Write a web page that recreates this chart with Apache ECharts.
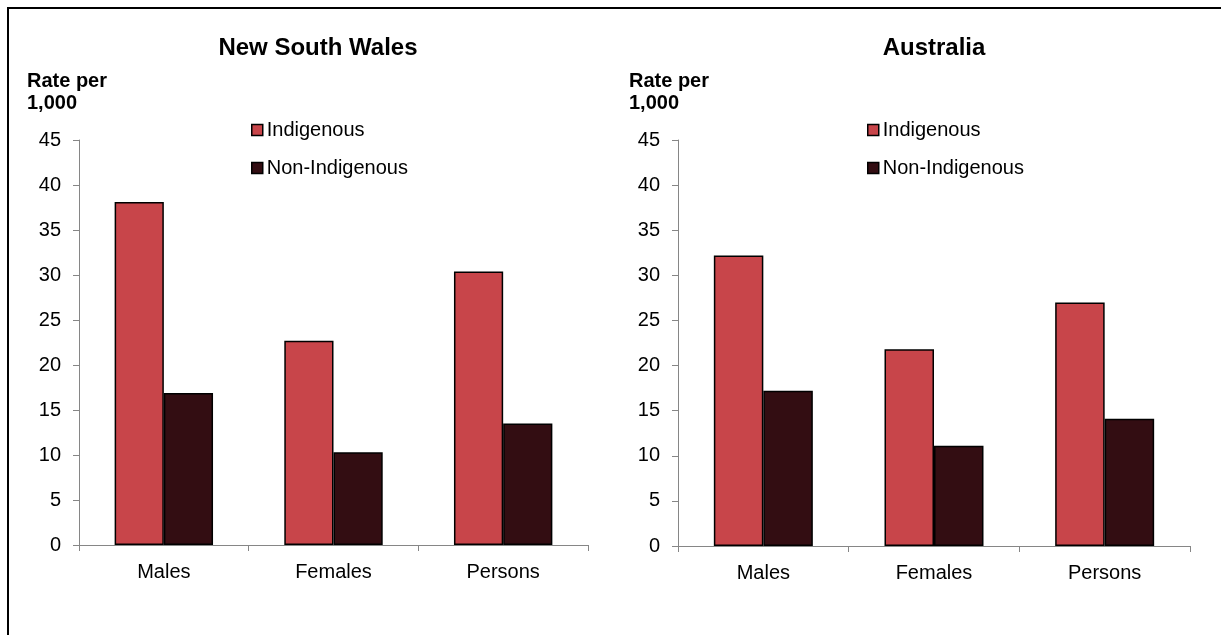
<!DOCTYPE html>
<html>
<head>
<meta charset="utf-8">
<script src="https://cdn.jsdelivr.net/npm/echarts@6/dist/echarts.min.js"></script>
<style>html,body{margin:0;padding:0;background:#fff;}#c{width:1225px;height:635px;}</style>
</head>
<body>
<div id="c"></div>
<script>
var categories = ['Males', 'Females', 'Persons'];
var seriesNames = ['Indigenous', 'Non-Indigenous'];
var nswIndigenous = [38.1, 22.7, 30.4];
var nswNonIndigenous = [16.9, 10.3, 13.5];
var ausIndigenous = [32.2, 21.8, 27.0];
var ausNonIndigenous = [17.2, 11.1, 14.1];
var panelTitles = ['New South Wales', 'Australia'];
var yAxisTitle = 'Rate per\n1,000';

var FONT = '"Liberation Sans", Arial, sans-serif';
var colors = ['#C8454A', '#330D12'];

function yAxis(gi) {
  return {
    gridIndex: gi, type: 'value', min: 0, max: 45, interval: 5,
    axisLine: {show: true, lineStyle: {color: '#868686', width: 1}},
    axisTick: {show: true, length: 6, lineStyle: {color: '#868686'}},
    splitLine: {show: false},
    axisLabel: {color: '#000', fontFamily: FONT, fontSize: 20, margin: 18}
  };
}
function xAxis(gi) {
  return {
    gridIndex: gi, type: 'category', data: categories,
    axisLine: {show: true, lineStyle: {color: '#868686', width: 1}},
    axisTick: {show: true, length: 6, lineStyle: {color: '#868686'}},
    axisLabel: {color: '#000', fontFamily: FONT, fontSize: 20, margin: 17}
  };
}
function bar(name, data, gi, ci) {
  return {
    name: name, type: 'bar', xAxisIndex: gi, yAxisIndex: gi, data: data,
    barGap: '0%', barCategoryGap: '42%',
    itemStyle: {color: colors[ci], borderColor: '#000', borderWidth: 1.5},
    emphasis: {disabled: true}
  };
}
function legend(left) {
  return {data: seriesNames, orient: 'vertical', left: left, top: 120, padding: 0, itemGap: 18, itemWidth: 11, itemHeight: 11, icon: 'rect',
    textStyle: {fontFamily: FONT, fontSize: 20, color: '#000', padding: [0, 0, 0, -1]},
    itemStyle: {borderColor: '#000', borderWidth: 1.5}, selectedMode: false};
}

var chart = echarts.init(document.getElementById('c'), null, {renderer: 'canvas'});
chart.setOption({
  animation: false,
  backgroundColor: '#fff',
  color: colors,
  legend: [legend(251), legend(867)],
  grid: [
    {left: 79, right: 637, top: 140, bottom: 90},
    {left: 678, right: 35, top: 140, bottom: 89}
  ],
  xAxis: [xAxis(0), xAxis(1)],
  yAxis: [yAxis(0), yAxis(1)],
  series: [
    bar(seriesNames[0], nswIndigenous, 0, 0),
    bar(seriesNames[1], nswNonIndigenous, 0, 1),
    bar(seriesNames[0], ausIndigenous, 1, 0),
    bar(seriesNames[1], ausNonIndigenous, 1, 1)
  ],
  graphic: [
    {type: 'line', shape: {x1: 8, y1: 7, x2: 8, y2: 640}, style: {stroke: '#000', lineWidth: 2}},
    {type: 'line', shape: {x1: 7, y1: 8, x2: 1221, y2: 8}, style: {stroke: '#000', lineWidth: 2}},
    {type: 'text', x: 318, y: 48, style: {text: panelTitles[0], textAlign: 'center', textVerticalAlign: 'middle', font: 'bold 24px ' + FONT, fill: '#000'}},
    {type: 'text', x: 934, y: 48, style: {text: panelTitles[1], textAlign: 'center', textVerticalAlign: 'middle', font: 'bold 24px ' + FONT, fill: '#000'}},
    {type: 'text', x: 27, y: 70, style: {text: yAxisTitle, textAlign: 'left', textVerticalAlign: 'top', font: 'bold 20px ' + FONT, lineHeight: 22, fill: '#000'}},
    {type: 'text', x: 629, y: 70, style: {text: yAxisTitle, textAlign: 'left', textVerticalAlign: 'top', font: 'bold 20px ' + FONT, lineHeight: 22, fill: '#000'}}
  ]
});
</script>
</body>
</html>
